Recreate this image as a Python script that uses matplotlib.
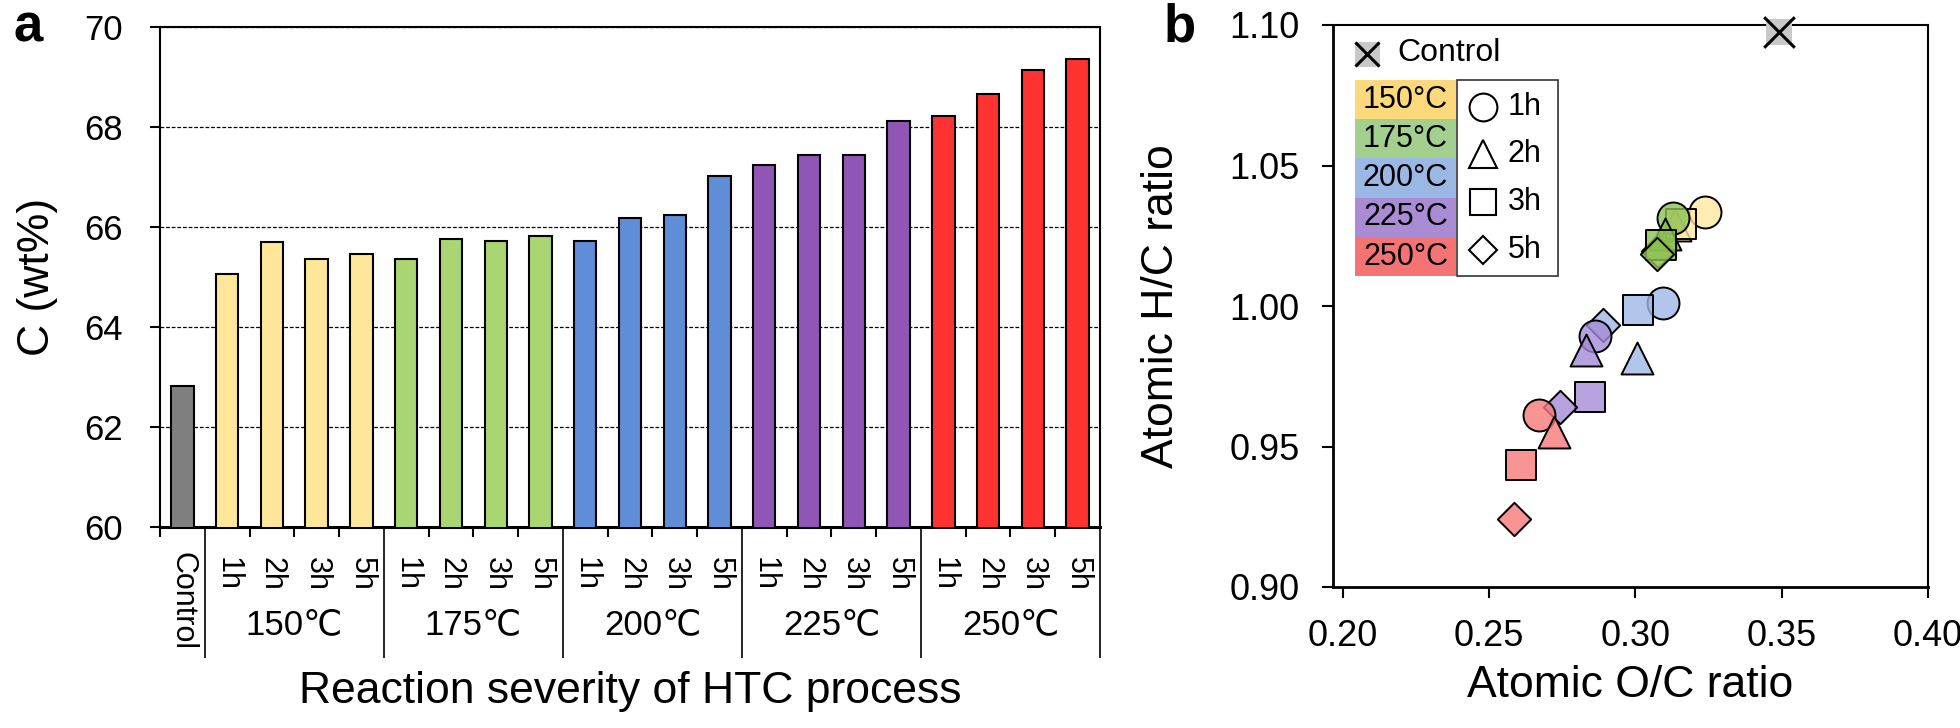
import matplotlib.pyplot as plt
import matplotlib.transforms as mtransforms
from matplotlib.colors import to_rgba
from matplotlib.patches import Rectangle

plt.rcParams['font.family'] = ['Liberation Sans', 'DejaVu Sans']

# ---- panel a data: carbon content (wt%) ----
hours = ['1h', '2h', '3h', '5h']
temps = ['150℃', '175℃', '200℃', '225℃', '250℃']
legend_temps = ['150°C', '175°C', '200°C', '225°C', '250°C']
c_control = 62.82
c_150 = [65.07, 65.70, 65.37, 65.46]
c_175 = [65.37, 65.76, 65.73, 65.82]
c_200 = [65.73, 66.19, 66.25, 67.01]
c_225 = [67.24, 67.43, 67.43, 68.12]
c_250 = [68.22, 68.65, 69.14, 69.37]
carbon = [c_150, c_175, c_200, c_225, c_250]

# ---- panel b data: van Krevelen (O/C, H/C), order 1h, 2h, 3h, 5h ----
oc_control, hc_control = 0.349, 1.0975
oc_150 = [0.3237, 0.3135, 0.3157, 0.3078]
hc_150 = [1.0334, 1.0290, 1.0293, 1.0195]
oc_175 = [0.3127, 0.3100, 0.3086, 0.3074]
hc_175 = [1.0312, 1.0255, 1.0217, 1.0185]
oc_200 = [0.3093, 0.3005, 0.3009, 0.2888]
hc_200 = [1.0010, 0.9815, 0.9986, 0.9932]
oc_225 = [0.2862, 0.2831, 0.2846, 0.2743]
hc_225 = [0.9893, 0.9845, 0.9676, 0.9642]
oc_250 = [0.2669, 0.2720, 0.2607, 0.2585]
hc_250 = [0.9612, 0.9550, 0.9435, 0.9241]
oc = [oc_150, oc_175, oc_200, oc_225, oc_250]
hc = [hc_150, hc_175, hc_200, hc_225, hc_250]

bar_colors = ['#FFE699', '#A9D672', '#5F8DD8', '#9056B6', '#FF3232']
pt_colors = ['#FFE8A0', '#8CC152', '#9EB8E5', '#A48BD6', '#F77A7A']
leg_colors = ['#FCD97A', '#A3CF8F', '#9AB8E3', '#A98CD4', '#F47474']
markers = ['o', '^', 's', 'D']
msizes = [23, 23, 22, 17]

W, H = 1960, 728
fig = plt.figure(figsize=(W / 100, H / 100), dpi=100)

# ================= panel a =================
ax1 = fig.add_axes([160 / W, 1 - 527 / H, 940 / W, 500 / H])
ax1.bar(0, c_control, width=0.5, color='#7F7F7F', edgecolor='black', lw=1.5, zorder=3)
for g, vals in enumerate(carbon):
    xs = [1 + 4 * g + i for i in range(4)]
    ax1.bar(xs, vals, width=0.5, color=bar_colors[g], edgecolor='black', lw=1.5, zorder=3)

ax1.set_xlim(-0.5, 20.5)
ax1.set_ylim(60, 70)
ax1.set_yticks(range(60, 71, 2))
ax1.yaxis.grid(True, linestyle=(0, (3, 1.5)), color='black', lw=0.9)
ax1.set_axisbelow(True)
ax1.tick_params(axis='y', direction='out', length=7, width=1.5, labelsize=25, pad=20)
for s in ax1.spines.values():
    s.set_linewidth(1.5)
ax1.spines['bottom'].set_linewidth(2.2)

# multi level category axis
group_edges = [0.5, 4.5, 8.5, 12.5, 16.5, 20.5]
bar_edges = [x - 0.5 for x in range(21) if x - 0.5 not in group_edges]
ax1.set_xticks(group_edges)
ax1.set_xticks(bar_edges, minor=True)
ax1.tick_params(axis='x', which='major', direction='out', length=94, width=1.2, labelbottom=False)
ax1.tick_params(axis='x', which='minor', direction='out', length=7, width=1.5, labelbottom=False)

trans = mtransforms.blended_transform_factory(ax1.transData, ax1.transAxes)
ax1.text(0, -0.05, 'Control', transform=trans, rotation=270, ha='center', va='top', fontsize=22)
for g in range(5):
    for i in range(4):
        ax1.text(1 + 4 * g + i, -0.06, hours[i], transform=trans, rotation=270,
                 ha='center', va='top', fontsize=22)
    ax1.text(2.5 + 4 * g, -0.196, temps[g], transform=trans, ha='center', va='center', fontsize=25)

ax1.text(0.5, -0.33, 'Reaction severity of HTC process', transform=ax1.transAxes,
         ha='center', va='center', fontsize=32)
ax1.set_ylabel('C (wt%)', fontsize=32)
ax1.yaxis.set_label_coords(-0.108, 0.5)

fig.text(28 / W, 1 - 27 / H, 'a', fontsize=38, fontweight='bold', ha='center', va='center')

# ================= panel b =================
ax2 = fig.add_axes([1333 / W, 1 - 587 / H, 595 / W, 562 / H])
for g in range(5):
    for i in range(4):
        ax2.scatter(oc[g][i], hc[g][i], marker=markers[i], s=msizes[i] ** 2,
                    facecolor=to_rgba(pt_colors[g], 0.8), edgecolor='black', lw=1.4, zorder=3)
ax2.scatter(oc_control, hc_control, marker='s', s=19 ** 2, color='#C8C8C8', lw=0, clip_on=False, zorder=3)
ax2.scatter(oc_control, hc_control, marker='x', s=22 ** 2, color='black', lw=2.2, clip_on=False, zorder=4)

ax2.set_xlim(0.1966, 0.40)
ax2.set_ylim(0.90, 1.10)
ax2.set_xticks([0.20, 0.25, 0.30, 0.35, 0.40])
ax2.set_xticklabels(['0.20', '0.25', '0.30', '0.35', '0.40'])
ax2.set_yticks([0.90, 0.95, 1.00, 1.05, 1.10])
ax2.set_yticklabels(['0.90', '0.95', '1.00', '1.05', '1.10'])
ax2.tick_params(axis='y', direction='out', length=8, width=1.5, labelsize=26, pad=16)
ax2.tick_params(axis='x', direction='out', length=8, width=1.5, labelsize=26, pad=15)
for s in ax2.spines.values():
    s.set_linewidth(1.5)
ax2.spines['bottom'].set_linewidth(2)
ax2.spines['left'].set_linewidth(2)
ax2.set_xlabel('Atomic O/C ratio', fontsize=32, va='center')
ax2.xaxis.set_label_coords(0.5, -0.176)
ax2.set_ylabel('Atomic H/C ratio', fontsize=32)
ax2.yaxis.set_label_coords(-0.254, 0.5)

fig.text(1180 / W, 1 - 27 / H, 'b', fontsize=38, fontweight='bold', ha='center', va='center')

# custom legend (axes fraction)
ta = ax2.transAxes
ax2.plot(0.057, 0.9484, marker='s', ms=18, color='#C8C8C8', mew=0, transform=ta, clip_on=False)
ax2.plot(0.057, 0.9484, marker='x', ms=17, color='black', mew=2.2, transform=ta, clip_on=False)
ax2.text(0.1076, 0.950, 'Control', transform=ta, ha='left', va='center', fontsize=23)

leg_x, leg_w, leg_top, row_h = 0.037, 0.1697, 0.9021, 0.0698
for g in range(5):
    y0 = leg_top - (g + 1) * row_h
    ax2.add_patch(Rectangle((leg_x, y0), leg_w, row_h, transform=ta, color=leg_colors[g], lw=0))
    ax2.text(leg_x + leg_w / 2, y0 + row_h / 2, legend_temps[g], transform=ta,
             ha='center', va='center', fontsize=22)
box_x = leg_x + leg_w + 0.002
ax2.add_patch(Rectangle((box_x, leg_top - 5 * row_h), leg_w, 5 * row_h, transform=ta,
                        facecolor='white', edgecolor='#333333', lw=1.2))
leg_rows = [0.854, 0.7705, 0.685, 0.5996]
leg_ms = [20, 20, 19, 14]
for i in range(4):
    ax2.plot(box_x + 0.043, leg_rows[i], marker=markers[i], ms=leg_ms[i], mfc='white',
             mec='black', mew=1.5, transform=ta, clip_on=False)
    ax2.text(box_x + 0.085, leg_rows[i], hours[i], transform=ta, ha='left', va='center', fontsize=22)

fig.savefig('out.png', dpi=100)
